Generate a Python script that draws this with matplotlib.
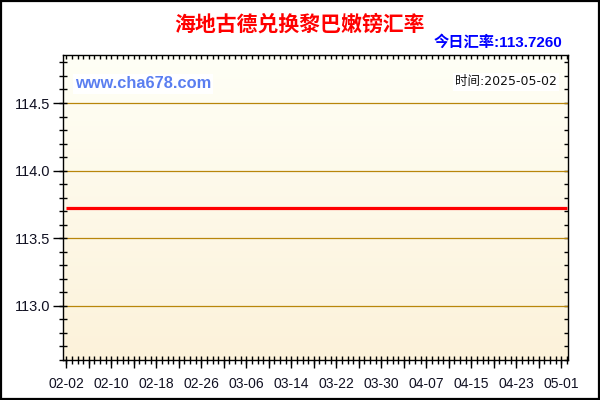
import matplotlib
matplotlib.use("Agg")
import matplotlib.pyplot as plt
import numpy as np
import pandas as pd
from matplotlib.patches import Rectangle

# ---- data ----
dates = pd.date_range("2025-02-02", "2025-05-02", freq="D")
rates = [
    113.726, 113.726, 113.726, 113.726, 113.726, 113.726, 113.726, 113.726, 113.726, 113.726,
    113.726, 113.726, 113.726, 113.726, 113.726, 113.726, 113.726, 113.726, 113.726, 113.726,
    113.726, 113.726, 113.726, 113.726, 113.726, 113.726, 113.726, 113.726, 113.726, 113.726,
    113.726, 113.726, 113.726, 113.726, 113.726, 113.726, 113.726, 113.726, 113.726, 113.726,
    113.726, 113.726, 113.726, 113.726, 113.726, 113.726, 113.726, 113.726, 113.726, 113.726,
    113.726, 113.726, 113.726, 113.726, 113.726, 113.726, 113.726, 113.726, 113.726, 113.726,
    113.726, 113.726, 113.726, 113.726, 113.726, 113.726, 113.726, 113.726, 113.726, 113.726,
    113.726, 113.726, 113.726, 113.726, 113.726, 113.726, 113.726, 113.726, 113.726, 113.726,
    113.726, 113.726, 113.726, 113.726, 113.726, 113.726, 113.726, 113.726, 113.726, 113.726,
]
x_labels = ["02-02", "02-10", "02-18", "02-26", "03-06", "03-14", "03-22",
            "03-30", "04-07", "04-15", "04-23", "05-01"]
y_ticks = [113.0, 113.5, 114.0, 114.5]
y_labels = ["113.0", "113.5", "114.0", "114.5"]
title = "海地古德兑换黎巴嫩镑汇率"
today_text = "今日汇率:113.7260"
site_text = "www.cha678.com"
time_text = "时间:2025-05-02"

# ---- figure ----
fig = plt.figure(figsize=(6, 4), dpi=100)
fig.patch.set_facecolor("white")
fig.patches.append(Rectangle((0.002, 0.002), 0.996, 0.995, transform=fig.transFigure,
                             fill=False, edgecolor="black", linewidth=1.6))

ax = fig.add_axes([0.105, 0.10, 0.8417, 0.7625])
x = np.arange(len(dates))
xmin, xmax = -0.6, len(dates) - 1 + 0.2
ymin, ymax = 112.6, 114.855
ax.set_xlim(xmin, xmax)
ax.set_ylim(ymin, ymax)

# gradient background (light at top, cream at bottom)
grad = np.linspace(0, 1, 256).reshape(-1, 1)
top = np.array([255, 255, 246]) / 255
bot = np.array([252, 242, 218]) / 255
img = top + (bot - top) * grad[..., None]
ax.imshow(img, extent=[xmin, xmax, ymin, ymax], origin="upper", aspect="auto", zorder=0)
ax.set_xlim(xmin, xmax)
ax.set_ylim(ymin, ymax)

for yt in y_ticks:
    ax.axhline(yt, color="#B8860B", linewidth=0.9, zorder=1)

ax.plot(x, rates, color="#FF0000", linewidth=2.3, zorder=3, solid_capstyle="butt")

for s in ax.spines.values():
    s.set_color("black")
    s.set_linewidth(1.0)

# x ticks
label_pos = list(range(0, len(dates), 8))[:len(x_labels)]
major_pos = list(range(0, len(dates), 4))
major_lab = [x_labels[label_pos.index(p)] if p in label_pos else "" for p in major_pos]
ax.set_xticks(major_pos)
ax.set_xticklabels(major_lab)
ax.set_xticks(x, minor=True)
ax.xaxis.remove_overlapping_locs = False
ax.tick_params(axis="x", which="major", direction="out", length=6, width=1, pad=6,
               labelsize=10, top=False)
ax.tick_params(axis="x", which="minor", direction="inout", length=6, width=1, top=False)

# y ticks
ax.set_yticks(y_ticks)
ax.set_yticklabels(y_labels)
ax.set_yticks(np.arange(112.6, 114.86, 0.1), minor=True)
ax.yaxis.remove_overlapping_locs = False
ax.tick_params(axis="y", which="major", direction="out", length=7, width=1, pad=2,
               labelsize=10.5, right=False)
ax.tick_params(axis="y", which="minor", direction="inout", length=6, width=1, right=False)

for lab in ax.get_xticklabels() + ax.get_yticklabels():
    lab.set_fontfamily("Liberation Sans")
    lab.set_color("#111122")

# top / right inward ticks
secx = ax.secondary_xaxis("top")
secx.set_xticks(x)
secx.set_xticklabels([])
secx.tick_params(direction="in", length=3, width=1)
secx.spines["top"].set_visible(False)
secy = ax.secondary_yaxis("right")
secy.set_yticks(np.arange(112.6, 114.86, 0.1))
secy.set_yticklabels([])
secy.tick_params(direction="in", length=3, width=1)
secy.spines["right"].set_visible(False)

# texts
fig.text(0.5, 0.94, title, ha="center", va="center", color="#FF0000",
         fontsize=15, fontweight="bold", family=["Noto Sans CJK SC", "DejaVu Sans"])
fig.text(0.938, 0.893, today_text, ha="right", va="center", color="#0000FF",
         fontsize=11, fontweight="bold", family=["Liberation Sans", "Noto Sans CJK SC"])
fig.text(0.125, 0.79, site_text, ha="left", va="center", color="#5A7EF0",
         fontsize=11.8, fontweight="bold", family=["Liberation Sans"],
         bbox=dict(facecolor="white", edgecolor="none", pad=1.5))
fig.text(0.928, 0.795, time_text, ha="right", va="center", color="#111111",
         fontsize=9, family=["DejaVu Sans", "Noto Sans CJK SC"],
         bbox=dict(facecolor="white", edgecolor="none", pad=1.5))

fig.savefig("out.png", dpi=100)
